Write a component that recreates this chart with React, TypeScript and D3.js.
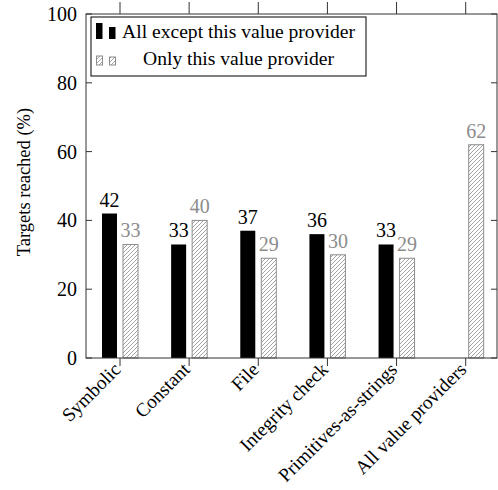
import React from "react";
import * as d3 from "d3";

const categories = ["Symbolic", "Constant", "File", "Integrity check", "Primitives-as-strings", "All value providers"];
const allExcept: (number | null)[] = [42, 33, 37, 36, 33, null];
const onlyThis: number[] = [33, 40, 29, 30, 29, 62];
const yTicks = [0, 20, 40, 60, 80, 100];
const legendLabels = ["All except this value provider", "Only this value provider"];

const W = 498, H = 490;
const frame = { left: 86, right: 497, top: 14, bottom: 358 };
const FONT = "'Times New Roman', 'Liberation Serif', 'DejaVu Serif'";
const AXIS = "#333";
const GRAY = "#8c8c8c";

export default function App() {
  const x = d3.scalePoint<string>().domain(categories).range([120, 465.7]);
  const y = d3.scaleLinear().domain([0, 100]).range([frame.bottom, frame.top]);
  const bw = 15, off = 10.5;
  const ts = { fontFamily: FONT };

  return (
    <svg width={W} height={H} style={{ position: "absolute", left: 0, top: 0, background: "#fff", fontFamily: FONT }}>
      <defs>
        <pattern id="hatch" patternUnits="userSpaceOnUse" width={4} height={4}>
          <path d="M0,4 L4,0 M-1,1 L1,-1 M3,5 L5,3" stroke={GRAY} strokeWidth={0.8} />
        </pattern>
      </defs>
      <rect x={0} y={0} width={W} height={H} fill="#fff" />
      {categories.map((c, i) => {
        const cx = x(c)!;
        const a = allExcept[i];
        const b = onlyThis[i];
        return (
          <g key={c}>
            {a !== null && (
              <g>
                <rect x={cx - off - bw / 2} y={y(a)} width={bw} height={y(0) - y(a)} fill="#000" />
                <text style={ts} x={cx - off} y={y(a) - 7} textAnchor="middle" fontSize={20} fill="#000">{a}</text>
              </g>
            )}
            <rect x={cx + off - bw / 2} y={y(b)} width={bw} height={y(0) - y(b)} fill="url(#hatch)" stroke={GRAY} strokeWidth={1} />
            <text style={ts} x={cx + off} y={y(b) - 7} textAnchor="middle" fontSize={20} fill={GRAY}>{b}</text>
          </g>
        );
      })}
      <rect x={frame.left} y={frame.top} width={frame.right - frame.left} height={frame.bottom - frame.top} fill="none" stroke={AXIS} strokeWidth={1} />
      {yTicks.map((t) => (
        <g key={t}>
          <line x1={frame.left} x2={frame.left + 6} y1={y(t)} y2={y(t)} stroke={AXIS} />
          <line x1={frame.right - 6} x2={frame.right} y1={y(t)} y2={y(t)} stroke={AXIS} />
          <text style={ts} x={frame.left - 9} y={y(t)} dy="0.35em" textAnchor="end" fontSize={20}>{t}</text>
        </g>
      ))}
      {categories.map((c) => {
        const cx = x(c)!;
        return (
          <g key={c}>
            <line x1={cx} x2={cx} y1={frame.bottom} y2={frame.bottom + 8} stroke={AXIS} />
            <line x1={cx} x2={cx} y1={frame.top} y2={frame.top - 12} stroke={AXIS} />
            <text style={ts} transform={`translate(${cx - 3},${frame.bottom + 8}) rotate(-45)`} dy="0.35em" textAnchor="end" fontSize={19.2}>{c}</text>
          </g>
        );
      })}
      <text style={ts} transform={`translate(24,182) rotate(-90)`} dy="0.35em" textAnchor="middle" fontSize={18.5}>Targets reached (%)</text>
      <g>
        <rect x={91} y={17} width={275} height={59} fill="#fff" stroke="#000" strokeWidth={1} />
        <rect x={96} y={23} width={6.5} height={16} fill="#000" />
        <rect x={109} y={27} width={6.5} height={12} fill="#000" />
        <text style={ts} x={238.5} y={38} textAnchor="middle" fontSize={19.6}>{legendLabels[0]}</text>
        <rect x={96.5} y={56} width={6} height={9} fill="url(#hatch)" stroke={GRAY} strokeWidth={1} />
        <rect x={109.5} y={57} width={6} height={8} fill="url(#hatch)" stroke={GRAY} strokeWidth={1} />
        <text style={ts} x={238.5} y={65} textAnchor="middle" fontSize={19.6}>{legendLabels[1]}</text>
      </g>
    </svg>
  );
}
